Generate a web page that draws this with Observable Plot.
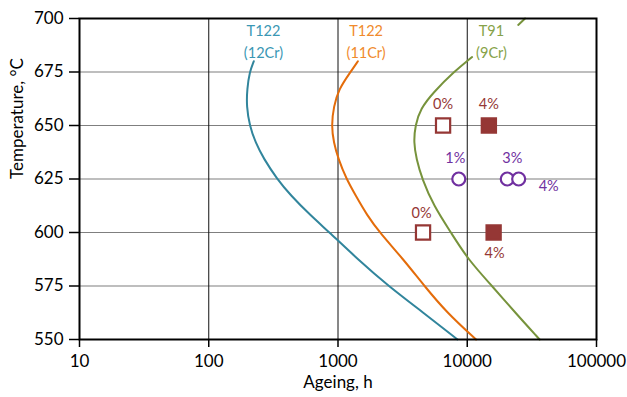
<!DOCTYPE html>
<html>
<head>
<meta charset="utf-8">
<script src="https://cdn.jsdelivr.net/npm/d3@7"></script>
<script src="https://cdn.jsdelivr.net/npm/@observablehq/plot@0.6"></script>
<style>
  html, body { margin: 0; padding: 0; background: white; }
</style>
</head>
<body>
<div id="chart"></div>
<script>
// ---- data ----
const xTicks = [10, 100, 1000, 10000, 100000];
const yTicks = [550, 575, 600, 625, 650, 675, 700];

const seriesNames = ["T122 (12Cr)", "T122 (11Cr)", "T91 (9Cr)"];
const curveLabels = ["T122\n(12Cr)", "T122\n(11Cr)", "T91\n(9Cr)"];
const curveLabelAgeing = [265, 1650, 15400];
const curveLabelTemp = [690, 690, 690];

const t12Ageing = [223, 207, 198, 196, 207, 230, 266, 338, 428, 612, 860, 1420, 2450, 4580, 8400];
const t12Temp   = [680, 675, 667, 659, 650, 642, 634.5, 625, 617.5, 608, 600, 587.5, 575, 562.5, 550];

const t11Ageing = [1425, 1248, 1013, 927, 889, 927, 1004, 1161, 1364, 1680, 2100, 3200, 4660, 6960, 11700];
const t11Temp   = [680, 675, 667, 659, 650, 642, 634.5, 625, 617.5, 608, 600, 587.5, 575, 562.5, 550];

// null marks the gap where the label covers the T91 line
const t91Ageing = [28000, 24800, null, 10900, 7850, 5500, 4335, 3960, 3850, 4040, 4470, 5500, 7480, 10100, 15560, 23560, 36300];
const t91Temp   = [700, 697, null, 682, 675, 665.6, 657.8, 650, 642.2, 634.4, 625, 612.5, 600, 587.5, 575, 562.5, 550];

const squareAgeing = [6500, 14700, 4550, 16000];
const squareTemp   = [650, 650, 600, 600];
const squareFilled = [false, true, false, true];
const squareLabel  = ["0%", "4%", "0%", "4%"];

const circleAgeing = [8600, 20400, 25000];
const circleTemp   = [625, 625, 625];
const circleLabel  = ["1%", "3%", "4%"];

// ---- styles ----
const lineColors  = ["#31859C", "#E46C0A", "#77933C"];
const labelColors = ["#3A97B4", "#F08A2C", "#86A249"];
const red = "#953735";
const purple = "#7030A0";

const toRows = (xs, ys) => xs.map((x, i) => ({x, y: ys[i]}));
const curves = [toRows(t12Ageing, t12Temp), toRows(t11Ageing, t11Temp), toRows(t91Ageing, t91Temp)];
const squares = squareAgeing.map((x, i) => ({x, y: squareTemp[i], filled: squareFilled[i], label: squareLabel[i]}));
const circles = circleAgeing.map((x, i) => ({x, y: circleTemp[i], label: circleLabel[i]}));

const font = "Lato, 'Open Sans', sans-serif";

const chart = Plot.plot({
  width: 627,
  height: 397,
  marginLeft: 79,
  marginRight: 31,
  marginTop: 18,
  marginBottom: 58,
  style: {fontFamily: font, fontSize: "17px", background: "white", color: "#000"},
  x: {type: "log", domain: [10, 100000]},
  y: {domain: [550, 700]},
  marks: [
    Plot.gridY(yTicks.slice(1, -1), {stroke: "#7f7f7f", strokeOpacity: 1, strokeWidth: 1.2}),
    Plot.gridX(xTicks.slice(1, -1), {stroke: "#111", strokeOpacity: 1, strokeWidth: 1}),
    Plot.axisX(xTicks, {tickSize: 8, tickPadding: 7, tickFormat: d => String(d), label: null, stroke: "#000", strokeWidth: 1.5, fontSize: 17}),
    Plot.axisY(yTicks, {tickSize: 10, tickPadding: 6, tickFormat: d => String(d), label: null, stroke: "#000", strokeWidth: 1.5, fontSize: 17}),
    ...curves.map((rows, i) => Plot.line(rows, {
      x: "x", y: "y", stroke: lineColors[i], strokeWidth: 2, curve: "basis"
    })),
    ...curveLabels.map((t, i) => Plot.text([t], {
      x: () => curveLabelAgeing[i], y: () => curveLabelTemp[i],
      fill: labelColors[i], fontSize: 14.5, lineHeight: 1.52, textAnchor: "middle"
    })),
    Plot.frame({stroke: "#000", strokeWidth: 2}),
    // squares
    Plot.dot(squares, {x: "x", y: "y", symbol: "square", r: 8,
      fill: d => d.filled ? red : "white", stroke: red, strokeWidth: 2.2}),
    Plot.text([squares[0], squares[1]], {x: "x", y: "y", text: "label", dy: -21, fill: red, fontSize: 14.5}),
    Plot.text([squares[2]], {x: "x", y: "y", text: "label", dy: -19, dx: -1.5, fill: red, fontSize: 14.5}),
    Plot.text([squares[3]], {x: "x", y: "y", text: "label", dy: 21, dx: 1, fill: red, fontSize: 14.5}),
    // circles
    Plot.dot(circles, {x: "x", y: "y", r: 6.5, fill: "white", stroke: purple, strokeWidth: 2.2}),
    Plot.text([circles[0]], {x: "x", y: "y", text: "label", dy: -21, dx: -3.5, fill: purple, fontSize: 14.5}),
    Plot.text([circles[1]], {x: "x", y: "y", text: "label", dy: -21, dx: 5, fill: purple, fontSize: 14.5}),
    Plot.text([circles[2]], {x: "x", y: "y", text: "label", dy: 7, dx: 30, fill: purple, fontSize: 14.5}),
    // axis titles
    Plot.text(["Ageing, h"], {frameAnchor: "bottom", dy: 48, fontSize: 17, fill: "#000"}),
    Plot.text(["Temperature, °C"], {frameAnchor: "left", dx: -62, rotate: -90, fontSize: 17, fill: "#000"})
  ]
});

document.getElementById("chart").appendChild(chart);
</script>
</body>
</html>
